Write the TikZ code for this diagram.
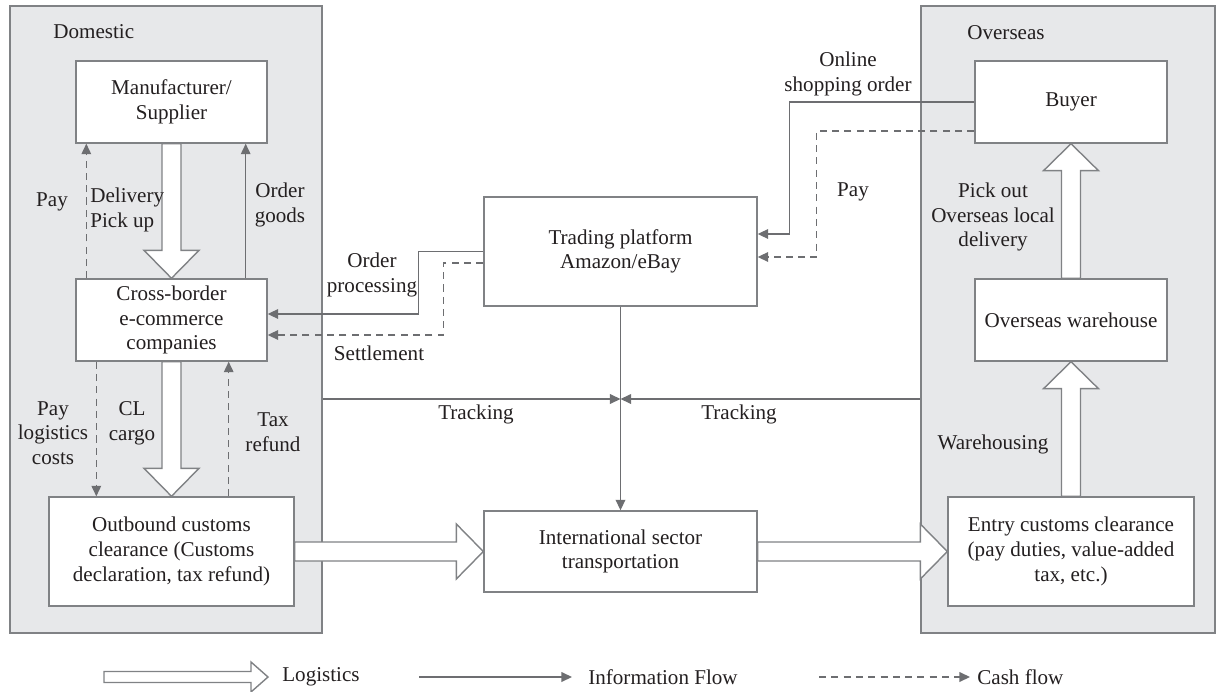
\documentclass[tikz,border=0pt]{standalone}
\usepackage{fontspec}
\setmainfont{Liberation Serif}
\usetikzlibrary{arrows.meta,calc}
\definecolor{panelgray}{HTML}{E7E8EA}
\definecolor{edgegray}{HTML}{808285}
\definecolor{linegray}{HTML}{6D6E71}
\definecolor{inkgray}{HTML}{231F20}
\tikzset{
  panel/.style={draw=edgegray,fill=panelgray,line width=0.8pt,inner sep=0pt},
  box/.style={draw=edgegray,fill=white,line width=0.8pt,align=center,inner sep=0pt,text=inkgray},
  lbl/.style={align=center,inner sep=0pt,text=inkgray},
  info/.style={draw=linegray,line width=0.75pt,-{Triangle[length=6pt,width=5.5pt]}},
  cash/.style={info,dash pattern=on 4pt off 3pt},
  logi/.style={draw=edgegray,fill=white,line width=0.8pt},
  % hollow arrow: half shaft, half head, head length
  fat/.style n args={3}{to path={let \p1=(\tikztostart), \p2=(\tikztotarget), \p3=($(\p2)!#3!(\p1)$) in
    -- ($(\p1)!#1!90:(\p2)$) -- ($(\p3)!#1!90:(\p2)$) -- ($(\p3)!#2!90:(\p2)$) -- (\p2)
    -- ($(\p3)!#2!-90:(\p2)$) -- ($(\p3)!#1!-90:(\p2)$) -- ($(\p1)!#1!-90:(\p2)$) -- cycle}},
}
\begin{document}
\begin{tikzpicture}[x=0.02cm,y=-0.02cm,font=\fontsize{12}{14}\selectfont]
\useasboundingbox (0,0) rectangle (1216,692);
% regions
\node[panel,minimum width=6.24cm,minimum height=12.54cm] (dom) at (166,319.5) {};
\node[panel,minimum width=5.88cm,minimum height=12.54cm] (ovs) at (1068,319.5) {};
\node[lbl,anchor=west] (ldom) at (53,32) {Domestic};
\node[lbl,anchor=west] (lovs) at (967,33) {Overseas};
% boxes
\node[box,minimum width=3.82cm,minimum height=1.64cm] (manu) at (171.5,102) {Manufacturer/\\Supplier};
\node[box,minimum width=3.82cm,minimum height=1.64cm] (cross) at (171.5,320) {Cross-border\\e-commerce\\companies};
\node[box,minimum width=4.9cm,minimum height=2.18cm] (outb) at (171.5,551.5) {Outbound customs\\clearance (Customs\\declaration, tax refund)};
\node[box,minimum width=5.46cm,minimum height=2.18cm] (trade) at (620.5,251.5) {Trading platform\\Amazon/eBay};
\node[box,minimum width=5.46cm,minimum height=1.62cm] (intl) at (620.5,551.5) {International sector\\transportation};
\node[box,minimum width=3.84cm,minimum height=1.64cm] (buyer) at (1071,102) {Buyer};
\node[box,minimum width=3.84cm,minimum height=1.64cm] (ware) at (1071,320) {Overseas warehouse};
\node[box,minimum width=4.92cm,minimum height=2.18cm] (entry) at (1071,551.5) {Entry customs clearance\\(pay duties, value-added\\tax, etc.)};
% logistics
\draw[logi] (manu.south) to[fat={0.19cm}{0.55cm}{0.56cm}] (cross.north);
\draw[logi] (cross.south) to[fat={0.19cm}{0.55cm}{0.56cm}] (outb.north);
\draw[logi] (outb.east) to[fat={0.19cm}{0.55cm}{0.54cm}] (intl.west);
\draw[logi] (intl.east) to[fat={0.19cm}{0.55cm}{0.54cm}] (entry.west);
\draw[logi] (entry.north) to[fat={0.19cm}{0.55cm}{0.54cm}] (ware.south);
\draw[logi] (ware.north) to[fat={0.19cm}{0.55cm}{0.54cm}] (buyer.south);
% domestic flows
\draw[cash] ([xshift=0.22cm]cross.north west) -- ([xshift=0.22cm]manu.south west);
\draw[info] ([xshift=-0.44cm]cross.north east) -- ([xshift=-0.44cm]manu.south east);
\draw[cash] ([xshift=0.42cm]cross.south west) -- ([xshift=0.42cm]cross.south west |- outb.north);
\draw[cash] ([xshift=-0.78cm]cross.south east |- outb.north) -- ([xshift=-0.78cm]cross.south east);
\node[lbl] (lpay) at (52,202) {Pay};
\node[lbl,align=left,anchor=west] (ldeliv) at (90,210) {Delivery\\Pick up};
\node[lbl] (lorder) at (280,205) {Order\\goods};
\node[lbl] (lpaylog) at (53,433) {Pay\\logistics\\costs};
\node[lbl] (lcl) at (132,423) {CL\\cargo};
\node[lbl] (ltax) at (273,432) {Tax\\refund};
% platform flows
\draw[info] (trade.west) -- ++(-65,0) |- ([yshift=0.12cm]cross.east);
\draw[cash] ([yshift=-0.23cm]trade.west) -- ++(-40,0) |- ([yshift=-0.3cm]cross.east);
\draw[info] (buyer.west) -- ++(-185,0) |- ([yshift=0.35cm]trade.east);
\draw[cash] ([yshift=-0.58cm]buyer.west) -- ++(-158,0) |- ([yshift=-0.11cm]trade.east);
\node[lbl] (lproc) at (372,275) {Order\\processing};
\node[lbl] (lsettle) at (379,353) {Settlement};
\node[lbl] (lonline) at (848,74) {Online\\shopping order};
\node[lbl] (lpay2) at (853,192) {Pay};
% tracking
\coordinate (trk) at (trade.south |- 0,399);
\draw[info] (trade.south) -- (intl.north);
\draw[info] (dom.east |- trk) -- (trk);
\draw[info] (ovs.west |- trk) -- (trk);
\node[lbl] (ltrk1) at (476,414) {Tracking};
\node[lbl] (ltrk2) at (739,414) {Tracking};
\node[lbl] (lpick) at (993,217) {Pick out\\Overseas local\\delivery};
\node[lbl] (lwareh) at (993,444) {Warehousing};
% legend
\coordinate (k1) at (104,677); \coordinate (k2) at (268,677);
\coordinate (k3) at (419,677); \coordinate (k4) at (572,677);
\coordinate (k5) at (819,677); \coordinate (k6) at (970,677);
\draw[logi] (k1) to[fat={0.11cm}{0.3cm}{0.34cm}] (k2);
\draw[info] (k3) -- (k4);
\draw[cash] (k5) -- (k6);
\node[lbl,anchor=west] (klog) at (282,677) {Logistics};
\node[lbl,anchor=west] (kinfo) at (588,677) {Information Flow};
\node[lbl,anchor=west] (kcash) at (977,677) {Cash flow};
\end{tikzpicture}
\end{document}
